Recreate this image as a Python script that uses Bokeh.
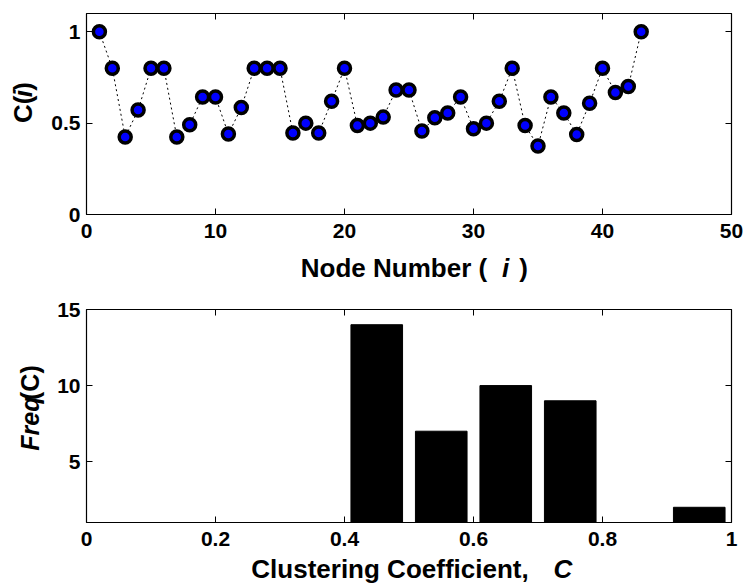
import numpy as np
from bokeh.plotting import figure
from bokeh.models import Range1d, LinearAxis, FixedTicker, Label, ColumnDataSource
from bokeh.layouts import column, row
from bokeh.embed import file_html
from bokeh.resources import INLINE

# ---------------- data ----------------
node = list(range(1, 44))
cc = [1.0, 0.80, 0.424, 0.572, 0.80, 0.80, 0.424, 0.491, 0.643, 0.643,
      0.44, 0.585, 0.80, 0.80, 0.80, 0.446, 0.50, 0.446, 0.62, 0.80,
      0.487, 0.50, 0.533, 0.681, 0.681, 0.457, 0.529, 0.556, 0.643, 0.469,
      0.50, 0.62, 0.80, 0.487, 0.375, 0.643, 0.556, 0.438, 0.609, 0.80,
      0.668, 0.70, 1.0]

bin_centers = [0.05, 0.15, 0.25, 0.35, 0.45, 0.55, 0.65, 0.75, 0.85, 0.95]
bin_counts = [0, 0, 0, 1, 14, 7, 10, 9, 1, 2]

top_xticks = [0, 10, 20, 30, 40, 50]
top_yticks = [0, 0.5, 1]
top_ylabels = {0: "0", 0.5: "0.5", 1: "1"}
bot_xticks = [0, 0.2, 0.4, 0.6, 0.8, 1]
bot_xlabels = {0: "0", 0.2: "0.2", 0.4: "0.4", 0.6: "0.6", 0.8: "0.8", 1: "1"}
bot_yticks = [5, 10, 15]

FONT = "Liberation Sans"
TICK_FS = "21px"

W = 748
YL_W = 45          # width of the y-label strip
PW = W - YL_W      # plot figure width


def style_axes(p, xticks, yticks, xover=None, yover=None):
    p.outline_line_color = "black"
    p.outline_line_width = 1.2
    p.xgrid.visible = False
    p.ygrid.visible = False
    for ax in p.xaxis + p.yaxis:
        ax.axis_line_color = None
        ax.major_tick_in = 6
        ax.major_tick_out = 0
        ax.minor_tick_line_color = None
        ax.major_tick_line_color = "black"
        ax.major_label_text_font = FONT
        ax.major_label_text_font_size = TICK_FS
        ax.major_label_text_font_style = "bold"
        ax.major_label_text_color = "black"
    p.xaxis[0].ticker = FixedTicker(ticks=xticks)
    p.yaxis[0].ticker = FixedTicker(ticks=yticks)
    p.xaxis[0].major_label_standoff = 9
    p.yaxis[0].major_label_standoff = 6
    if xover:
        p.xaxis[0].major_label_overrides = xover
    if yover:
        p.yaxis[0].major_label_overrides = yover
    # mirrored tick marks on top and right (no labels)
    top = LinearAxis(ticker=FixedTicker(ticks=xticks), axis_line_color=None,
                     major_tick_in=6, major_tick_out=0, minor_tick_line_color=None,
                     major_label_overrides={t: "" for t in xticks},
                     major_label_text_font_size="8px", major_label_standoff=0,
                     major_tick_line_color="black")
    right = LinearAxis(ticker=FixedTicker(ticks=yticks), axis_line_color=None,
                       major_tick_in=6, major_tick_out=0, minor_tick_line_color=None,
                       major_label_overrides={t: "" for t in yticks},
                       major_label_text_font_size="8px", major_label_standoff=0,
                       major_tick_line_color="black")
    p.add_layout(top, "above")
    p.add_layout(right, "right")


def text_strip(width, height):
    f = figure(width=width, height=height, output_backend="svg", toolbar_location=None,
               x_range=Range1d(0, width), y_range=Range1d(0, height),
               x_axis_type=None, y_axis_type=None,
               min_border_left=0, min_border_right=0, min_border_top=0, min_border_bottom=0)
    f.outline_line_color = None
    f.xgrid.visible = False
    f.ygrid.visible = False
    f.background_fill_color = "white"
    f.border_fill_color = "white"
    return f


def lab(p, x, y, text, style="bold", angle=0.0, size="26px"):
    p.add_layout(Label(x=x, y=y, x_units="data", y_units="data", text=text,
                       text_font=FONT, text_font_size=size,
                       text_font_style=style, text_color="black",
                       text_align="center", text_baseline="middle",
                       angle=angle))


# ---------------- top plot ----------------
H1 = 252
p1 = figure(width=PW, height=H1, output_backend="svg", toolbar_location=None,
            x_range=Range1d(0, 50), y_range=Range1d(0, 1.1),
            min_border_left=41, min_border_right=17,
            min_border_top=13, min_border_bottom=H1 - 214)
p1.background_fill_color = "white"
p1.border_fill_color = "white"
style_axes(p1, top_xticks, top_yticks, yover=top_ylabels)

src = ColumnDataSource(dict(x=node, y=cc))
p1.line("x", "y", source=src, line_color="black", line_width=1, line_dash="2 3")
p1.scatter("x", "y", source=src, size=12, fill_color="#0000ff",
           line_color="black", line_width=3.5)

yl1 = text_strip(YL_W, H1)
lab(yl1, 22.5, H1 - 120, "C(", angle=np.pi / 2)
lab(yl1, 22.5, H1 - 100.5, "i", "bold italic", angle=np.pi / 2)
lab(yl1, 22.5, H1 - 91.5, ")", angle=np.pi / 2)

XL1_BOT = 290
XL1_H = XL1_BOT - H1
xl1 = text_strip(W, XL1_H)
lab(xl1, 393.5, XL1_BOT - 267, "Node Number (")
lab(xl1, 505, XL1_BOT - 267, "i", "bold italic")
lab(xl1, 523, XL1_BOT - 267, ")")

# ---------------- bottom plot ----------------
TOP2 = 290
BOT2 = 555
H2 = BOT2 - TOP2
p2 = figure(width=PW, height=H2, output_backend="svg", toolbar_location=None,
            x_range=Range1d(0, 1), y_range=Range1d(1, 15),
            min_border_left=41, min_border_right=17,
            min_border_top=309 - TOP2, min_border_bottom=BOT2 - 522)
p2.background_fill_color = "white"
p2.border_fill_color = "white"
style_axes(p2, bot_xticks, bot_yticks, xover=bot_xlabels)

p2.vbar(x=bin_centers, top=bin_counts, bottom=0, width=0.08,
        fill_color="black", line_color="black", line_width=1)

yl2 = text_strip(YL_W, H2)
lab(yl2, 29.5, BOT2 - 432, "Freq", "bold italic", angle=np.pi / 2, size="25px")
lab(yl2, 29.5, BOT2 - 381, "(C)", angle=np.pi / 2, size="25px")

XL2_H = 586 - BOT2
xl2 = text_strip(W, XL2_H)
lab(xl2, 389.5, 586 - 568.5, "Clustering Coefficient,")
lab(xl2, 562.5, 586 - 568.5, "C", "bold italic")

layout = column(row(yl1, p1, spacing=0), xl1, row(yl2, p2, spacing=0), xl2, spacing=0)
open("out.html", "w").write(file_html(layout, INLINE))
